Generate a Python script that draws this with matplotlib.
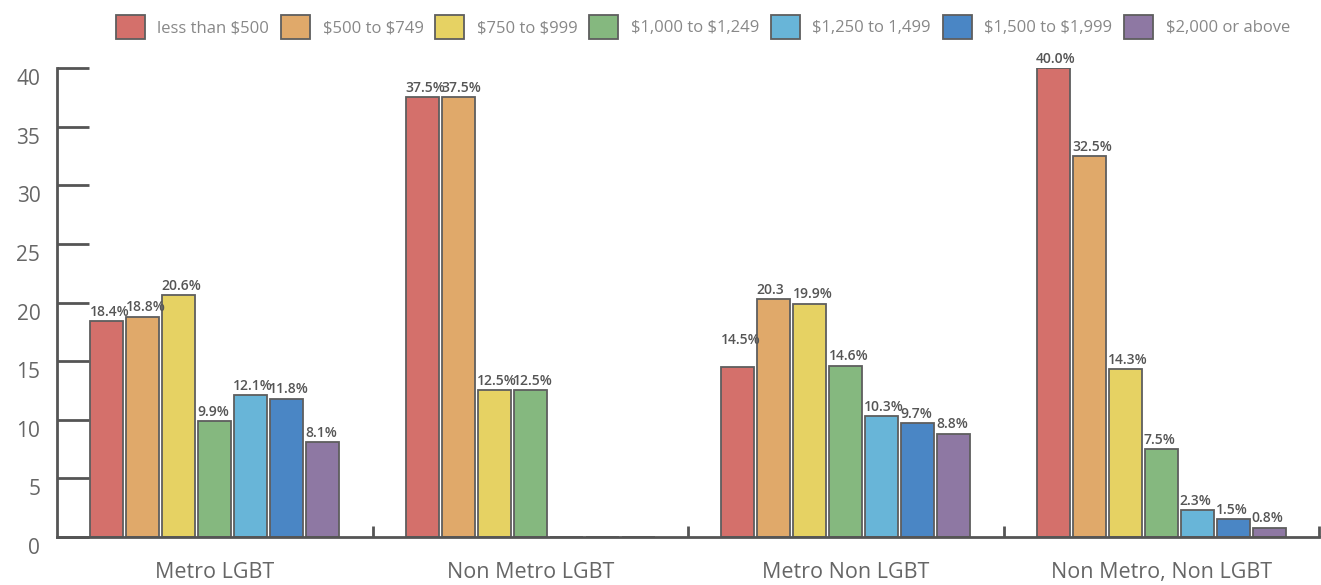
import numpy as np
import matplotlib.pyplot as plt
from matplotlib.transforms import ScaledTranslation

plt.rcParams['font.family'] = ['Open Sans', 'DejaVu Sans']
plt.rcParams['text.parse_math'] = False

groups = ["Metro LGBT", "Non Metro LGBT", "Metro Non LGBT", "Non Metro, Non LGBT"]
series = ["less than $500", "$500 to $749", "$750 to $999", "$1,000 to $1,249",
          "$1,250 to 1,499", "$1,500 to $1,999", "$2,000 or above"]
# one list per income band, values per group (None = no bar)
lessThan500 = [18.4, 37.5, 14.5, 40.0]
from500to749 = [18.8, 37.5, 20.3, 32.5]
from750to999 = [20.6, 12.5, 19.9, 14.3]
from1000to1249 = [9.9, 12.5, 14.6, 7.5]
from1250to1499 = [12.1, None, 10.3, 2.3]
from1500to1999 = [11.8, None, 9.7, 1.5]
above2000 = [8.1, None, 8.8, 0.8]
values = [lessThan500, from500to749, from750to999, from1000to1249,
          from1250to1499, from1500to1999, above2000]
labels = [["18.4%", "37.5%", "14.5%", "40.0%"],
          ["18.8%", "37.5%", "20.3", "32.5%"],
          ["20.6%", "12.5%", "19.9%", "14.3%"],
          ["9.9%", "12.5%", "14.6%", "7.5%"],
          ["12.1%", None, "10.3%", "2.3%"],
          ["11.8%", None, "9.7%", "1.5%"],
          ["8.1%", None, "8.8%", "0.8%"]]

colors = ["#d4706b", "#e0a96a", "#e6d263", "#85b87f", "#68b5d8", "#4a86c5", "#8e78a3"]
edge = "#5e5e5e"
axisColor = "#555555"

fig = plt.figure(figsize=(13.21, 5.85), dpi=100)
ax = fig.add_axes([57 / 1321, 48 / 585, 1262 / 1321, 469 / 585])

slot = 0.114
barW = 0.104
x = np.arange(len(groups))
for i, (vals, col) in enumerate(zip(values, colors)):
    pos = x + (i - 3) * slot
    h = [v if v is not None else 0 for v in vals]
    bars = ax.bar(pos, h, width=barW, color=col, edgecolor=edge, linewidth=1.3,
                  label=series[i])
    for j, b in enumerate(bars):
        lab = labels[i][j]
        if lab is None:
            continue
        extra = 1.5 if (i == 0 and j == 2) else 0
        ax.text(b.get_x() - 0.003, b.get_height() + 0.2 + extra, lab,
                ha="left", va="bottom", fontsize=10, color="#555555",
                fontweight="semibold")

ax.set_xlim(-0.5, 3.5)
ax.set_ylim(0, 40)
ax.set_yticks(np.arange(0, 41, 5))
ax.set_xticks(x)
ax.set_xticklabels(groups)
ax.set_xticks([0.5, 1.5, 2.5, 3.5], minor=True)

for s in ["top", "right"]:
    ax.spines[s].set_visible(False)
for s in ["left", "bottom"]:
    ax.spines[s].set_color(axisColor)
    ax.spines[s].set_linewidth(2)

ax.tick_params(axis="y", direction="in", length=23, width=2, color=axisColor,
               labelsize=15, labelcolor="#666666", pad=12)
ax.tick_params(axis="x", which="major", length=0, labelsize=15.5,
               labelcolor="#666666", pad=18)
ax.tick_params(axis="x", which="minor", direction="in", length=8, width=2,
               color=axisColor)
off = ScaledTranslation(0, -9 / 100, fig.dpi_scale_trans)
for t in ax.get_yticklabels():
    t.set_transform(t.get_transform() + off)

fig.legend(loc="upper center", bbox_to_anchor=(0.532, 1.0), ncol=7, frameon=False,
           fontsize=12, labelcolor="#888888", handlelength=1.75, handleheight=1.8,
           columnspacing=0.7, handletextpad=0.75, borderaxespad=0.5)

fig.savefig("out.png", dpi=100)
